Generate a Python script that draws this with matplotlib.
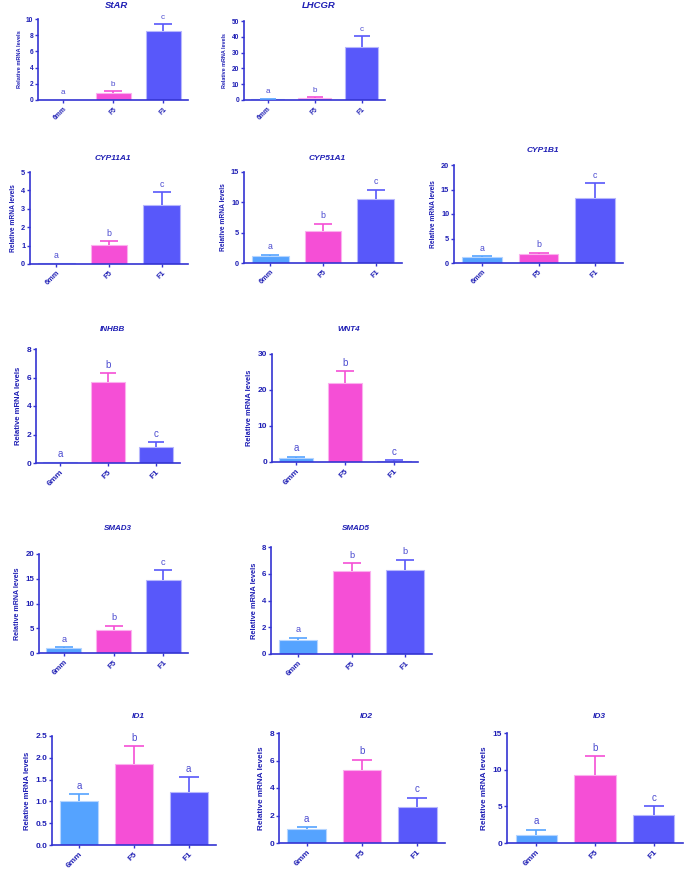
import matplotlib
matplotlib.use("Agg")
import matplotlib.pyplot as plt

plt.rcParams['font.family'] = ['Liberation Sans', 'DejaVu Sans']

W, H = 685, 869

groups = ["6mm", "F5", "F1"]
genes = ["StAR", "LHCGR", "CYP11A1", "CYP51A1", "CYP1B1", "INHBB", "WNT4",
         "SMAD3", "SMAD5", "ID1", "ID2", "ID3"]

means = [
    [0.05, 0.85, 8.5],
    [0.5, 1.3, 33.5],
    [0.03, 1.05, 3.2],
    [1.2, 5.3, 10.6],
    [1.2, 1.8, 13.3],
    [0.05, 5.7, 1.1],
    [1.2, 22.0, 0.4],
    [1.1, 4.7, 14.7],
    [1.05, 6.2, 6.25],
    [1.02, 1.85, 1.22],
    [1.0, 5.3, 2.65],
    [1.1, 9.3, 3.8],
]
errors = [
    [0.0, 0.25, 0.85],
    [0.2, 0.5, 7.0],
    [0.0, 0.2, 0.7],
    [0.2, 1.2, 1.5],
    [0.2, 0.3, 3.0],
    [0.0, 0.6, 0.35],
    [0.3, 3.2, 0.1],
    [0.1, 0.8, 2.0],
    [0.15, 0.6, 0.8],
    [0.15, 0.42, 0.34],
    [0.13, 0.75, 0.65],
    [0.7, 2.5, 1.2],
]
letters = [
    ["a", "b", "c"], ["a", "b", "c"], ["a", "b", "c"], ["a", "b", "c"],
    ["a", "b", "c"], ["a", "b", "c"], ["a", "b", "c"], ["a", "b", "c"],
    ["a", "b", "b"], ["a", "b", "a"], ["a", "b", "c"], ["a", "b", "c"],
]
yticks = [
    [0, 2, 4, 6, 8, 10], [0, 10, 20, 30, 40, 50], [0, 1, 2, 3, 4, 5],
    [0, 5, 10, 15], [0, 5, 10, 15, 20], [0, 2, 4, 6, 8], [0, 10, 20, 30],
    [0, 5, 10, 15, 20], [0, 2, 4, 6, 8], [0.0, 0.5, 1.0, 1.5, 2.0, 2.5],
    [0, 2, 4, 6, 8], [0, 5, 10, 15],
]

# layout in pixels: left, top, right, bottom, title y, tick font, label font, title font
layout = [
    (38, 19, 188, 100, 6, 4.8, 4.1, 6.8),
    (244, 21, 385, 100, 6, 4.8, 3.9, 6.8),
    (30, 172, 188, 264, 158, 5.3, 4.8, 6.0),
    (244, 172, 402, 263, 158, 5.3, 4.8, 6.0),
    (454, 165, 623, 263, 151, 5.3, 4.8, 6.0),
    (36, 349, 180, 463, 329, 6.0, 5.6, 5.8),
    (272, 354, 418, 462, 329, 6.0, 5.4, 5.8),
    (39, 554, 188, 653, 528, 5.7, 5.1, 5.8),
    (271, 547, 432, 654, 528, 5.7, 5.4, 5.8),
    (52, 736, 216, 845, 716, 6.0, 5.6, 6.0),
    (279, 733, 445, 843, 716, 6.0, 5.9, 6.0),
    (507, 733, 683, 843, 716, 6.0, 5.9, 6.0),
]

bar_colors = ["#55A3FF", "#F54FD6", "#5858FA"]
edge_colors = ["#B5D5FF", "#FBB0EE", "#B7B7FD"]
axis_color = "#3434D2"
text_color = "#1E1EB4"
letter_color = "#4B4BD0"

fig = plt.figure(figsize=(W / 100, H / 100), dpi=100)

for i, gene in enumerate(genes):
    l, t, r, b, ty, tfs, lfs, titfs = layout[i]
    ax = fig.add_axes([l / W, 1 - b / H, (r - l) / W, (b - t) / H])
    x = range(len(groups))
    ax.bar(x, means[i], width=0.7, color=bar_colors,
           edgecolor=edge_colors, linewidth=0.8, zorder=2)
    # cap spans about half of a bar
    unit = (r - l) / 3.0
    cap = unit * 0.7 / 4 * 0.72
    for j in x:
        if errors[i][j] > 0:
            eb = ax.errorbar(j, means[i][j], yerr=[[0], [errors[i][j]]],
                             color=bar_colors[j], capsize=cap, capthick=1.2,
                             elinewidth=1.2, zorder=3)
            eb[1][0].set_visible(False)  # no lower cap
        ax.annotate(letters[i][j], (j, means[i][j] + errors[i][j]),
                    xytext=(0, 2.5), textcoords="offset points",
                    ha="center", va="bottom", color=letter_color,
                    fontsize=tfs + 1)
    ax.set_xlim(-0.5, 2.5)
    ax.set_ylim(yticks[i][0], yticks[i][-1])
    ax.set_yticks(yticks[i])
    if gene == "ID1":
        ax.set_yticklabels([f"{v:.1f}" for v in yticks[i]])
    ax.set_xticks(list(x))
    ax.set_xticklabels(groups, rotation=45, ha="right", rotation_mode="anchor",
                       fontweight="bold", fontsize=tfs, color=text_color)
    ax.tick_params(axis="y", labelsize=tfs, labelcolor=text_color,
                   color=axis_color, length=2.5, width=1, pad=1)
    ax.tick_params(axis="x", color=axis_color, length=2.5, width=1, pad=1.5)
    for lab in ax.get_yticklabels():
        lab.set_fontweight("bold")
    for side in ["top", "right"]:
        ax.spines[side].set_visible(False)
    for side in ["left", "bottom"]:
        ax.spines[side].set_color(axis_color)
        ax.spines[side].set_linewidth(1.2)
    ax.set_ylabel("Relative mRNA levels", fontsize=lfs, fontweight="bold",
                  color=text_color, labelpad=3)
    fig.text((l + r) / 2 / W + 4 / W, 1 - ty / H, gene, ha="center", va="center",
             fontsize=titfs, fontweight="bold", fontstyle="italic",
             color=text_color)

fig.savefig("out.png", dpi=100)
